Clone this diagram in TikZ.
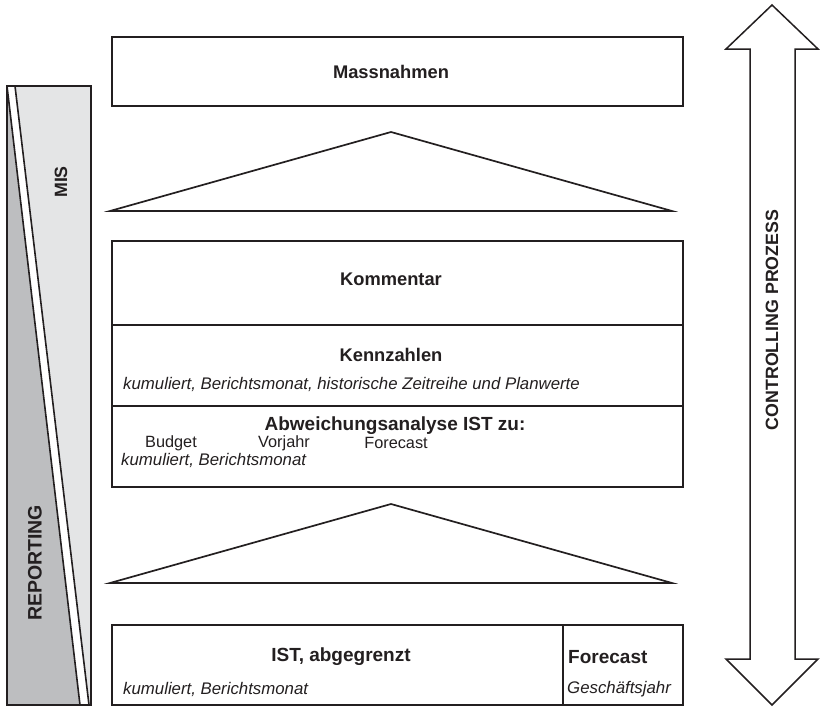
\documentclass[tikz,border=0pt]{standalone}
\usepackage{fontspec}
\setmainfont{Liberation Sans}
\definecolor{ink}{HTML}{231F20}
\definecolor{darkgr}{HTML}{BDBEC0}
\definecolor{lightgr}{HTML}{E4E5E6}
\begin{document}
\begin{tikzpicture}[x=1pt,y=-1pt,
  line join=miter,
  box/.style={draw=ink, line width=1.7pt, fill=white, inner sep=0pt},
  tri/.style={draw=ink, line width=1.7pt, fill=white},
  btitle/.style={font=\fontsize{18.3}{21}\selectfont\bfseries, inner sep=0pt, text=ink},
  bbig/.style={font=\fontsize{19}{22}\selectfont\bfseries, inner sep=0pt, text=ink},
  itext/.style={font=\fontsize{16.8}{19}\selectfont\itshape, inner sep=0pt, anchor=west, text=ink},
  rtext/.style={font=\fontsize{16.3}{19}\selectfont, inner sep=0pt, text=ink},
  vlabel/.style={font=\fontsize{17.8}{20}\selectfont\bfseries, inner sep=0pt, rotate=90, text=ink}
]
\useasboundingbox (0,0) rectangle (821,707);

% left bar
\fill[lightgr] (7,86) rectangle (91,705);
\fill[darkgr] (7,86) -- (80,705) -- (7,705) -- cycle;
\fill[white] (7,86) -- (15,86) -- (89,705) -- (80,705) -- cycle;
\draw[ink, line width=1.6pt] (7,86) -- (80,705);
\draw[ink, line width=1.6pt] (15,86) -- (89,705);
\draw[ink, line width=1.6pt] (7,86) rectangle (91,705);
\node[vlabel] (mis) at (61,182) {MIS};
\node[vlabel, font=\fontsize{19.5}{22}\selectfont\bfseries] (rep) at (35,563) {REPORTING};

% Massnahmen
\node[box, minimum width=571pt, minimum height=69pt] (mass) at (397.5,71.5) {};
\node[btitle] (masst) at (391,72) {Massnahmen};

% triangle 1
\draw[tri] (110,211) -- (391,132) -- (672,211) -- cycle;

% Kommentar
\node[box, minimum width=571pt, minimum height=84pt] (komm) at (397.5,283) {};
\node[btitle] (kommt) at (391,279) {Kommentar};

% Kennzahlen
\node[box, minimum width=571pt, minimum height=81pt] (kenn) at (397.5,365.5) {};
\node[btitle] (kennt) at (391,355) {Kennzahlen};
\node[itext] (kenni) at (123,384) {kumuliert, Berichtsmonat, historische Zeitreihe und Planwerte};

% Abweichungsanalyse
\node[box, minimum width=571pt, minimum height=81pt] (abw) at (397.5,446.5) {};
\node[bbig] (abwt) at (395,426) {Abweichungsanalyse IST zu:};
\node[rtext] (budget) at (171,443) {Budget};
\node[rtext] (vorjahr) at (284,443) {Vorjahr};
\node[rtext] (fc1) at (396,443) {Forecast};
\node[itext] (abwi) at (121,460) {kumuliert, Berichtsmonat};

% triangle 2
\draw[tri] (110,583) -- (391,504) -- (672,583) -- cycle;

% IST box
\node[box, minimum width=451pt, minimum height=80pt] (ist) at (337.5,665) {};
\node[box, minimum width=120pt, minimum height=80pt] (fcb) at (623,665) {};
\node[bbig] (istt) at (341,657) {IST, abgegrenzt};
\node[itext] (isti) at (123,689) {kumuliert, Berichtsmonat};
\node[bbig, anchor=west] (fct) at (568,657) {Forecast};
\node[itext] (fci) at (567,689) {Geschäftsjahr};

% double arrow
\draw[ink, line width=1.5pt, fill=white] (772,5) -- (818,49) -- (795,49) -- (795,659) -- (818,659) -- (772,705) -- (726,659) -- (750,659) -- (750,49) -- (726,49) -- cycle;
\node[vlabel] (ctrl) at (772,320) {CONTROLLING PROZESS};
\end{tikzpicture}
\end{document}
